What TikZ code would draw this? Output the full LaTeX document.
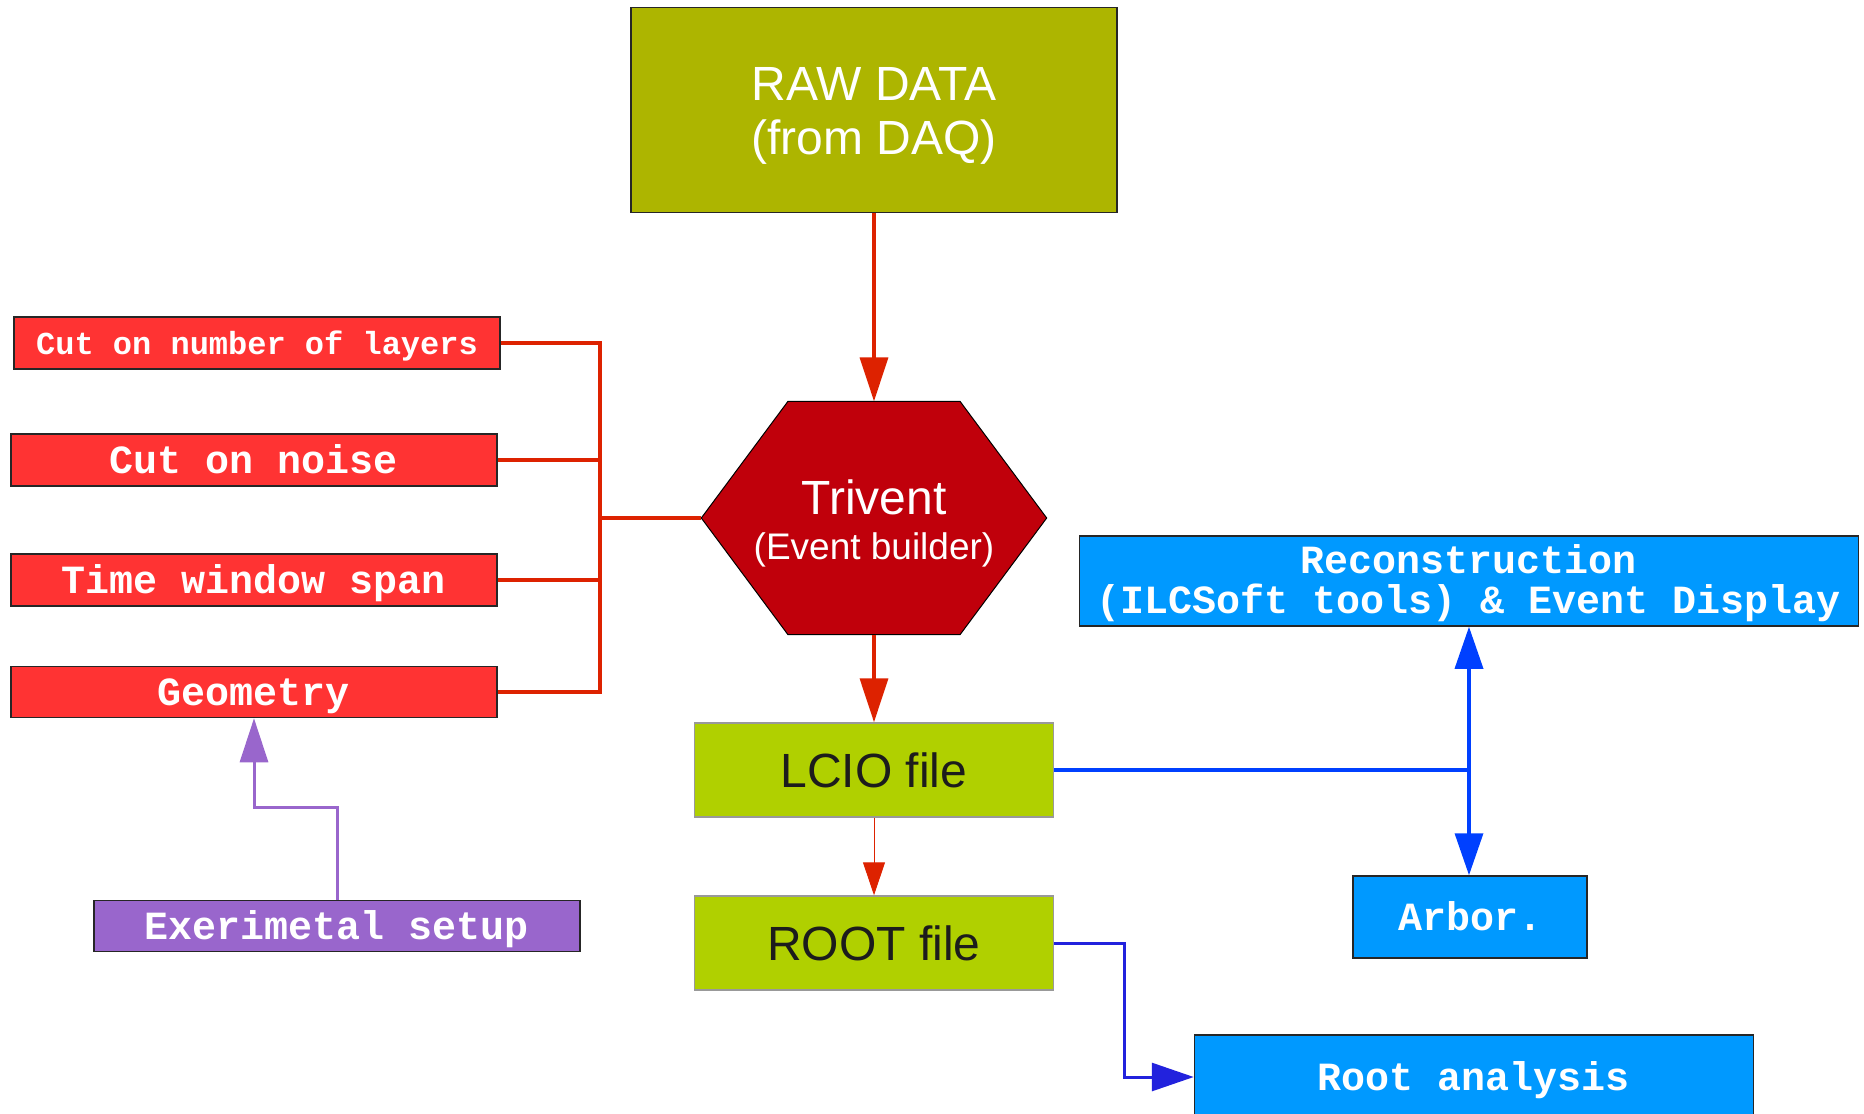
\documentclass[tikz,border=0pt]{standalone}
\usepackage{fontspec}
\setmainfont{Liberation Sans}
\setmonofont{Liberation Mono}
\usepackage{tikz}
\usetikzlibrary{arrows.meta}
\definecolor{rawgreen}{RGB}{173,181,0}
\definecolor{filegreen}{RGB}{176,208,0}
\definecolor{filetext}{RGB}{28,28,28}
\definecolor{hexred}{RGB}{192,0,11}
\definecolor{cutred}{RGB}{255,51,51}
\definecolor{toolblue}{RGB}{0,153,255}
\definecolor{setuppurple}{RGB}{153,102,204}
\definecolor{linkred}{RGB}{221,34,0}
\definecolor{linkblue}{RGB}{0,64,255}
\definecolor{linkindigo}{RGB}{34,34,221}
\tikzstyle{basebox} = [draw=black!85, line width=1.5pt, inner sep=0pt, align=center]
\tikzstyle{monoline} = [text height=27pt, text depth=0pt]
\tikzstyle{cutbox} = [basebox, monoline, fill=cutred, text=white, minimum width=486pt, minimum height=52pt, font=\fontsize{40}{40}\selectfont\ttfamily\bfseries]
\tikzstyle{toolbox} = [basebox, fill=toolblue, text=white, font=\fontsize{40}{40}\selectfont\ttfamily\bfseries]
\tikzstyle{filebox} = [basebox, draw=black!40, fill=filegreen, text=filetext, minimum width=359pt, minimum height=94pt, font=\fontsize{48}{54}\selectfont]
\tikzstyle{redline} = [draw=linkred, line width=3.5pt]
\tikzstyle{redarrow} = [redline, -{Triangle[length=44pt,width=28pt]}]
\tikzstyle{bluearrow} = [draw=linkblue, line width=3.5pt, {Triangle[length=42pt,width=28pt]}-{Triangle[length=42pt,width=28pt]}]

\begin{document}
\begin{tikzpicture}[x=1pt,y=-1pt]
          \useasboundingbox (0,0) rectangle (1864,1114);
          \node[basebox, fill=rawgreen, text=white, minimum width=486pt, minimum height=205pt, font=\fontsize{48}{54}\selectfont] at (874,110) (raw) {\rule{0pt}{45pt}RAW DATA\\(from DAQ)};

          \node[minimum width=345pt, minimum height=233pt, inner sep=0pt] at (874,518) (trivent) {};
          \filldraw[fill=hexred, draw=black, line width=1pt] (trivent.west) -- ([xshift=-86pt]trivent.north) -- ([xshift=86pt]trivent.north)
            -- (trivent.east) -- ([xshift=86pt]trivent.south) -- ([xshift=-86pt]trivent.south) -- cycle;
          \node[text=white, align=center, font=\fontsize{48}{45}\selectfont] at ([yshift=-5pt]trivent.center) (triventtext) {Trivent\\{\fontsize{37}{44}\selectfont(Event builder)}};

          \node[filebox] at (874,770) (lcio) {LCIO file};
          \node[filebox] at (874,943) (root) {ROOT file};

          \node[cutbox, text height=23pt, font=\fontsize{32}{32}\selectfont\ttfamily\bfseries] at (257,343) (layers) {Cut on number of layers};
          \node[cutbox] at (254,460) (noise) {Cut on noise};
          \node[cutbox] at (254,580) (window) {Time window span};
          \node[cutbox, minimum height=51pt] at (254,692) (geometry) {Geometry};
          \node[basebox, monoline, fill=setuppurple, text=white, minimum width=486pt, minimum height=51pt, font=\fontsize{40}{40}\selectfont\ttfamily\bfseries] at (337,926) (setup) {Exerimetal setup};

          \node[toolbox, minimum width=779pt, minimum height=90pt] at (1469,581) (reco) {\rule{0pt}{34pt}Reconstruction\\(ILCSoft tools) \& Event Display};
          \node[toolbox, monoline, minimum width=234pt, minimum height=82pt] at (1470,917) (arbor) {Arbor.};
          \node[toolbox, monoline, minimum width=559pt, minimum height=84pt] at (1474,1077) (analysis) {Root analysis};
          \coordinate (bus) at (600,518);
          \coordinate (split) at (reco.south |- lcio.east);

          \draw[redarrow] (raw) -- (trivent.north);
          \draw[redarrow] (trivent.south) -- (lcio.north);
          \draw[draw=linkred, line width=1pt, -{Triangle[length=33pt,width=22pt]}] (lcio.south) -- (root.north);
          \draw[redline] (layers.east) -| (bus);
          \draw[redline] (noise.east) -| (bus);
          \draw[redline] (window.east) -| (bus);
          \draw[redline] (geometry.east) -| (bus);
          \draw[redline] (bus) -- (trivent.west);
          \draw[draw=setuppurple, line width=3pt, -{Triangle[length=44pt,width=28pt]}] (setup.north) -- ++(0,-92) -| (geometry.south);
          \draw[draw=linkblue, line width=3.5pt] (lcio.east) -- (split);
          \draw[bluearrow] (reco.south) -- (reco.south |- arbor.north);
          \draw[draw=linkindigo, line width=3pt, -{Triangle[length=42pt,width=28pt]}] (root.east) -- ++(70,0) |- (analysis.west);
        \end{tikzpicture}
\end{document}
